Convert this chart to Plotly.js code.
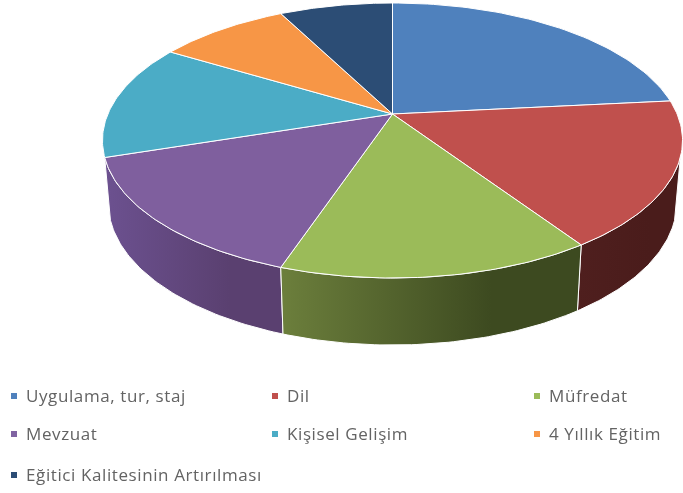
<!DOCTYPE html>
<html><head><meta charset="utf-8">
<script src="https://cdn.plot.ly/plotly-3.0.1.min.js"></script>
<style>html,body{margin:0;padding:0;background:#fff}#c{width:683px;height:493px;filter:blur(0.5px)}
#c .textpoint text{letter-spacing:0.6px}</style>
</head><body><div id="c"></div>
<script>
const categories = ["Uygulama, tur, staj","Dil","Müfredat","Mevzuat","Kişisel Gelişim","4 Yıllık Eğitim","Eğitici Kalitesinin Artırılması"];
const shares = [23.4,17.2,14.6,14.8,13.6,8.8,7.6];
const topColors = ["#4f81bd","#c0504d","#9bbb59","#7f5f9e","#4bacc6","#f79646","#2c4d75"];
const markerColors = ["#4f81bd","#c0504d","#9bbb59","#8064a2","#4bacc6","#f79646","#2c4d75"];
const wallLeft = ["#3a5f8c","#4f1f1e","#6c7f3c","#6c5190","#3a8ba0","#b06a30","#1f3a5a"];
const wallRight = ["#3a5f8c","#4a1c1b","#3d4a20","#5a4070","#3a8ba0","#b06a30","#1f3a5a"];

// pie projection (pixel space axes)
const CX=392.5, CY=114, A=284.6, B=132.4, K=-0.1927, STEPS=60;
const VIS=[108,252];
function topRim(deg){const t=deg*Math.PI/180,u=Math.sin(t),v=-Math.cos(t),d=1+K*v;return [CX+A*u/d,CY+B*v/d];}
function bottomRim(deg){const p=topRim(deg);return [CX+(p[0]-CX)*0.98,p[1]+63+4*(p[1]-160)/117];}
function arc(fn,a,b){const o=[];for(let i=0;i<=STEPS;i++)o.push(fn(a+(b-a)*i/STEPS));return o;}

const traces=[];
const total=shares.reduce((s,v)=>s+v,0);
let acc=0;
const spans=shares.map(v=>{const a=acc*360/total;acc+=v;return [a,acc*360/total];});

// side walls, outer ones first
const wallOrder=[1,3,2];
wallOrder.forEach(i=>{
  const a=Math.max(spans[i][0],VIS[0]),b=Math.min(spans[i][1],VIS[1]);
  if(b<=a)return;
  const pts=arc(topRim,a,b).concat(arc(bottomRim,b,a));pts.push(pts[0]);
  traces.push({type:"scatter",mode:"lines",x:pts.map(p=>p[0]),y:pts.map(p=>p[1]),
    fill:"toself",line:{color:"#ffffff",width:1},
    fillgradient:{type:"horizontal",colorscale:[[0,wallLeft[i]],[0.7,wallRight[i]],[1,wallRight[i]]]},
    hoverinfo:"skip",showlegend:false});
});
// top faces
shares.forEach((v,i)=>{
  const pts=[[CX,CY]].concat(arc(topRim,spans[i][0],spans[i][1]));pts.push([CX,CY]);
  traces.push({type:"scatter",mode:"lines",x:pts.map(p=>p[0]),y:pts.map(p=>p[1]),
    fill:"toself",fillcolor:topColors[i],line:{color:"#ffffff",width:1},
    name:categories[i],hoverinfo:"name",showlegend:false});
});
// legend
const colX=[14,275,537], rowY=[396,434,475];
categories.forEach((c,i)=>{
  const x=colX[i%3],y=rowY[Math.floor(i/3)];
  traces.push({type:"scatter",mode:"markers",x:[x],y:[y],
    marker:{symbol:"square",size:6,color:markerColors[i]},hoverinfo:"skip",showlegend:false});
  traces.push({type:"scatter",mode:"text",x:[x+12],y:[y+1.5],text:[c],textposition:"middle right",
    textfont:{family:"Open Sans",size:17,color:"#636363"},hoverinfo:"skip",showlegend:false,cliponaxis:false});
});
Plotly.newPlot("c",traces,{
  width:683,height:493,margin:{l:0,r:0,t:0,b:0},paper_bgcolor:"#fff",plot_bgcolor:"#fff",
  xaxis:{range:[0,683],visible:false,fixedrange:true},
  yaxis:{range:[493,0],visible:false,fixedrange:true},
  showlegend:false
},{displayModeBar:false,staticPlot:true});
</script></body></html>
